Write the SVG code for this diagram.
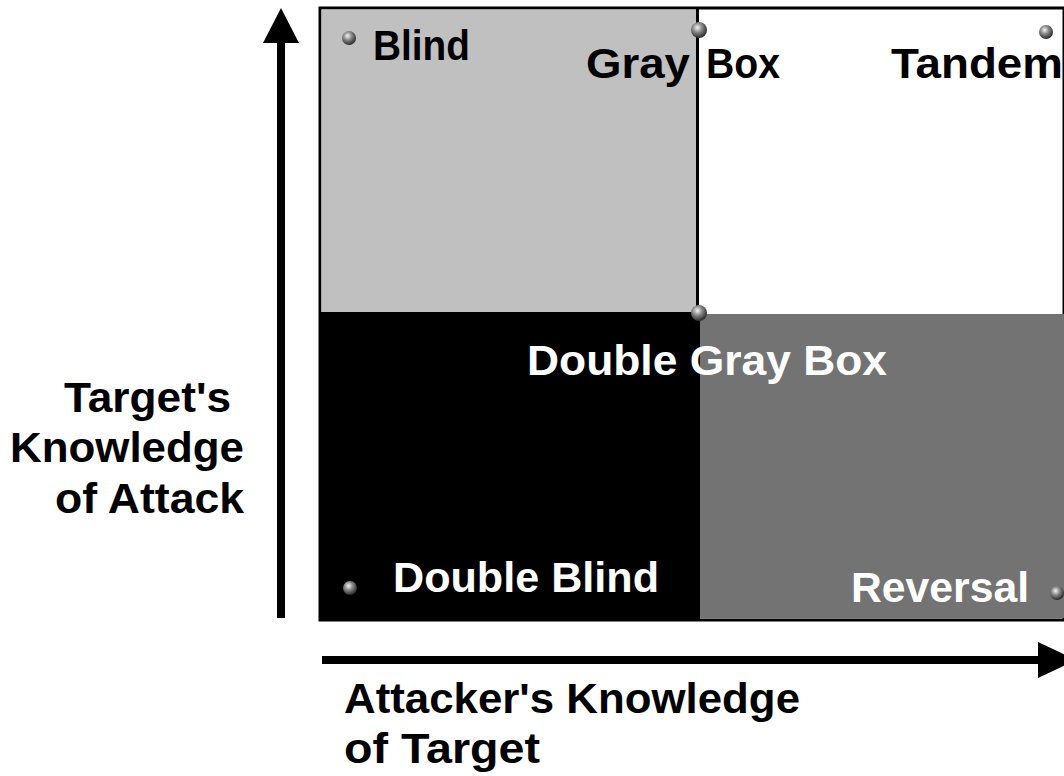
<svg xmlns="http://www.w3.org/2000/svg" width="1064" height="776" viewBox="0 0 1064 776">
<style>
.q{font-family:"Liberation Sans",Arial,sans-serif;font-weight:bold;font-size:42px}
.ax{font-family:"Liberation Sans",Arial,sans-serif;font-weight:bold;font-size:42px;fill:#000}
.w{fill:#fff}
.k{fill:#000}
.ball{fill:url(#bg)}
</style>
<defs>
<radialGradient id="bg" cx="0.4" cy="0.35" r="0.65">
<stop offset="0" stop-color="#f4f4f4"/>
<stop offset="0.45" stop-color="#8a8a8a"/>
<stop offset="1" stop-color="#2a2a2a"/>
</radialGradient>
</defs>
<rect width="1064" height="776" fill="#fff"/>
<g id="quadrants">
<rect x="320" y="8" width="744" height="612" fill="#fff" stroke="#000" stroke-width="3"/>
<rect id="q-blind" x="321.5" y="9.5" width="376" height="302.5" fill="#c0c0c0"/>
<rect id="q-doubleblind" x="320" y="312" width="380" height="308" fill="#000"/>
<rect id="q-reversal" x="700" y="314" width="364" height="304" fill="#737373"/>
<line x1="697.5" y1="8" x2="697.5" y2="312" stroke="#000" stroke-width="3"/>
</g>
<g id="connectors">
<line x1="281" y1="618" x2="281" y2="40" stroke="#000" stroke-width="8"/>
<polygon points="281,8 263,43 299,43" fill="#000"/>
<line x1="322" y1="660" x2="1040" y2="660" stroke="#000" stroke-width="8"/>
<polygon points="1076,660 1038,642 1038,678" fill="#000"/>
</g>
<g id="node-blind">
<circle class="ball" cx="349" cy="38" r="7"/>
<text class="q k" x="373" y="60" textLength="97" lengthAdjust="spacingAndGlyphs">Blind</text>
</g>
<g id="node-graybox">
<circle class="ball" cx="699" cy="30" r="8"/>
<text class="q k" x="586" y="78" textLength="104" lengthAdjust="spacingAndGlyphs">Gray</text>
<text class="q k" x="706" y="78" textLength="74" lengthAdjust="spacingAndGlyphs">Box</text>
</g>
<g id="node-tandem">
<circle class="ball" cx="1046" cy="32" r="7"/>
<text class="q k" x="891" y="78" textLength="172" lengthAdjust="spacingAndGlyphs">Tandem</text>
</g>
<g id="node-doublegraybox">
<circle class="ball" cx="699" cy="313" r="8"/>
<text class="q w" x="527" y="375" textLength="360" lengthAdjust="spacingAndGlyphs">Double Gray Box</text>
</g>
<g id="node-doubleblind">
<circle class="ball" cx="350" cy="588" r="7"/>
<text class="q w" x="393" y="592" textLength="266" lengthAdjust="spacingAndGlyphs">Double Blind</text>
</g>
<g id="node-reversal">
<circle class="ball" cx="1057" cy="593" r="7"/>
<text class="q w" x="851" y="602" textLength="178" lengthAdjust="spacingAndGlyphs">Reversal</text>
</g>
<g id="label-y">
<text class="ax" x="64" y="412" textLength="167" lengthAdjust="spacingAndGlyphs">Target's</text>
<text class="ax" x="10" y="462" textLength="234" lengthAdjust="spacingAndGlyphs">Knowledge</text>
<text class="ax" x="55" y="513" textLength="189" lengthAdjust="spacingAndGlyphs">of Attack</text>
</g>
<g id="label-x">
<text class="ax" x="344" y="713" textLength="456" lengthAdjust="spacingAndGlyphs">Attacker's Knowledge</text>
<text class="ax" x="344" y="763" textLength="196" lengthAdjust="spacingAndGlyphs">of Target</text>
</g>
</svg>
